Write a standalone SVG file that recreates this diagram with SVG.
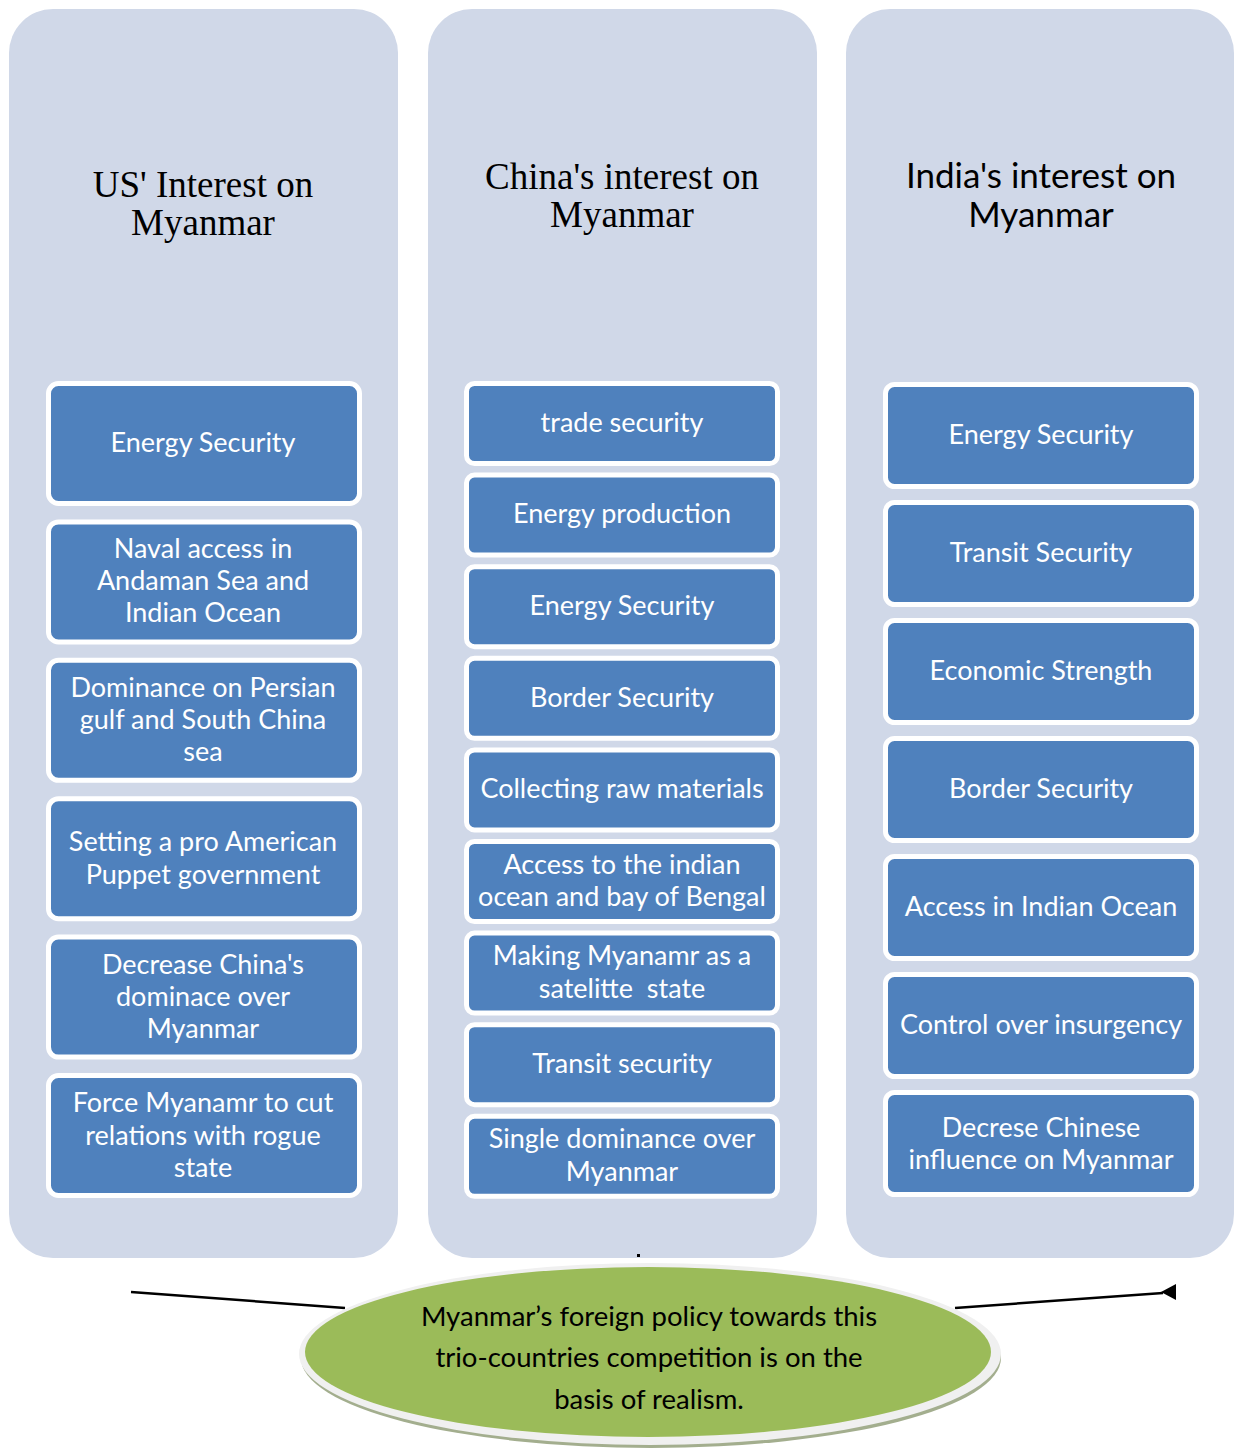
<svg xmlns="http://www.w3.org/2000/svg" width="1234" height="1450" viewBox="0 0 1234 1450">
<style>
.panel{fill:#D0D8E8}
.box{fill:#4F81BD;stroke:#FFFFFF;stroke-width:5}
.bt{font-family:Lato,"Open Sans",sans-serif;font-size:27px;fill:#FFFFFF;text-anchor:middle}
.ts{font-family:"Liberation Serif",serif;font-size:37px;fill:#000;text-anchor:middle}
.tc{font-family:Lato,"Open Sans",sans-serif;font-size:35px;fill:#000;text-anchor:middle}
.et{font-family:Lato,"Open Sans",sans-serif;font-size:27.5px;fill:#000;text-anchor:middle}
.conn{stroke:#000;stroke-width:2.5;fill:none}
</style>
<rect width="1234" height="1450" fill="#FFFFFF"/>
<g id="panel-us">
<rect class="panel" x="9" y="9" width="389" height="1249" rx="44"/>
<text class="ts" x="203" y="197">US' Interest on</text>
<text class="ts" x="203" y="235">Myanmar</text>
</g>
<g id="panel-china">
<rect class="panel" x="428" y="9" width="389" height="1249" rx="44"/>
<text class="ts" x="622" y="189">China's interest on</text>
<text class="ts" x="622" y="227">Myanmar</text>
</g>
<g id="panel-india">
<rect class="panel" x="846" y="9" width="388" height="1249" rx="44"/>
<text class="tc" x="1041" y="188">India's interest on</text>
<text class="tc" x="1041" y="227">Myanmar</text>
</g>
<g id="us-1"><rect class="box" x="48.5" y="383.5" width="311" height="120" rx="10"/><text class="bt" x="203" y="452">Energy Security</text></g>
<g id="us-2"><rect class="box" x="48.5" y="521.9" width="311" height="120" rx="10"/><text class="bt" x="203" y="558">Naval access in</text><text class="bt" x="203" y="590">Andaman Sea and</text><text class="bt" x="203" y="622">Indian Ocean</text></g>
<g id="us-3"><rect class="box" x="48.5" y="660.3" width="311" height="120" rx="10"/><text class="bt" x="203" y="697">Dominance on Persian</text><text class="bt" x="203" y="729">gulf and South China</text><text class="bt" x="203" y="761">sea</text></g>
<g id="us-4"><rect class="box" x="48.5" y="798.7" width="311" height="120" rx="10"/><text class="bt" x="203" y="851">Setting a pro American</text><text class="bt" x="203" y="884">Puppet government</text></g>
<g id="us-5"><rect class="box" x="48.5" y="937.1" width="311" height="120" rx="10"/><text class="bt" x="203" y="974">Decrease China's</text><text class="bt" x="203" y="1006">dominace over</text><text class="bt" x="203" y="1038">Myanmar</text></g>
<g id="us-6"><rect class="box" x="48.5" y="1075.5" width="311" height="120" rx="10"/><text class="bt" x="203" y="1112">Force Myanamr to cut</text><text class="bt" x="203" y="1145">relations with rogue</text><text class="bt" x="203" y="1177">state</text></g>
<g id="cn-1"><rect class="box" x="466.5" y="383.5" width="311" height="80" rx="8"/><text class="bt" x="622" y="432">trade security</text></g>
<g id="cn-2"><rect class="box" x="466.5" y="475.1" width="311" height="80" rx="8"/><text class="bt" x="622" y="523">Energy production</text></g>
<g id="cn-3"><rect class="box" x="466.5" y="566.7" width="311" height="80" rx="8"/><text class="bt" x="622" y="615">Energy Security</text></g>
<g id="cn-4"><rect class="box" x="466.5" y="658.3" width="311" height="80" rx="8"/><text class="bt" x="622" y="707">Border Security</text></g>
<g id="cn-5"><rect class="box" x="466.5" y="749.9" width="311" height="80" rx="8"/><text class="bt" x="622" y="798">Collecting raw materials</text></g>
<g id="cn-6"><rect class="box" x="466.5" y="841.5" width="311" height="80" rx="8"/><text class="bt" x="622" y="874">Access to the indian</text><text class="bt" x="622" y="906">ocean and bay of Bengal</text></g>
<g id="cn-7"><rect class="box" x="466.5" y="933.1" width="311" height="80" rx="8"/><text class="bt" x="622" y="965">Making Myanamr as a</text><text class="bt" x="622" y="998" xml:space="preserve">satelitte  state</text></g>
<g id="cn-8"><rect class="box" x="466.5" y="1024.7" width="311" height="80" rx="8"/><text class="bt" x="622" y="1073">Transit security</text></g>
<g id="cn-9"><rect class="box" x="466.5" y="1116.3" width="311" height="80" rx="8"/><text class="bt" x="622" y="1148">Single dominance over</text><text class="bt" x="622" y="1181">Myanmar</text></g>
<g id="in-1"><rect class="box" x="885.5" y="384.5" width="311" height="102" rx="9"/><text class="bt" x="1041" y="444">Energy Security</text></g>
<g id="in-2"><rect class="box" x="885.5" y="502.5" width="311" height="102" rx="9"/><text class="bt" x="1041" y="562">Transit Security</text></g>
<g id="in-3"><rect class="box" x="885.5" y="620.5" width="311" height="102" rx="9"/><text class="bt" x="1041" y="680">Economic Strength</text></g>
<g id="in-4"><rect class="box" x="885.5" y="738.5" width="311" height="102" rx="9"/><text class="bt" x="1041" y="798">Border Security</text></g>
<g id="in-5"><rect class="box" x="885.5" y="856.5" width="311" height="102" rx="9"/><text class="bt" x="1041" y="916">Access in Indian Ocean</text></g>
<g id="in-6"><rect class="box" x="885.5" y="974.5" width="311" height="102" rx="9"/><text class="bt" x="1041" y="1034">Control over insurgency</text></g>
<g id="in-7"><rect class="box" x="885.5" y="1092.5" width="311" height="102" rx="9"/><text class="bt" x="1041" y="1137">Decrese Chinese</text><text class="bt" x="1041" y="1169">influence on Myanmar</text></g>
<g id="connectors">
<line class="conn" x1="131" y1="1292" x2="345" y2="1308"/>
<line class="conn" x1="955" y1="1308" x2="1163" y2="1293"/>
<polygon points="1161,1292 1176,1284 1176,1300" fill="#000"/>
<rect x="637" y="1254" width="3" height="3" fill="#000"/>
</g>
<g id="policy">
<ellipse cx="651" cy="1358" rx="350" ry="90" fill="#A3AE8E"/>
<ellipse cx="650" cy="1354" rx="351" ry="91" fill="#F0F0F0"/>
<ellipse cx="648" cy="1352" rx="343" ry="85" fill="#9BBB59"/>
<text class="et" x="649" y="1326">Myanmar’s foreign policy towards this</text>
<text class="et" x="649" y="1367">trio-countries competition is on the</text>
<text class="et" x="649" y="1409">basis of realism.</text>
</g>
</svg>
